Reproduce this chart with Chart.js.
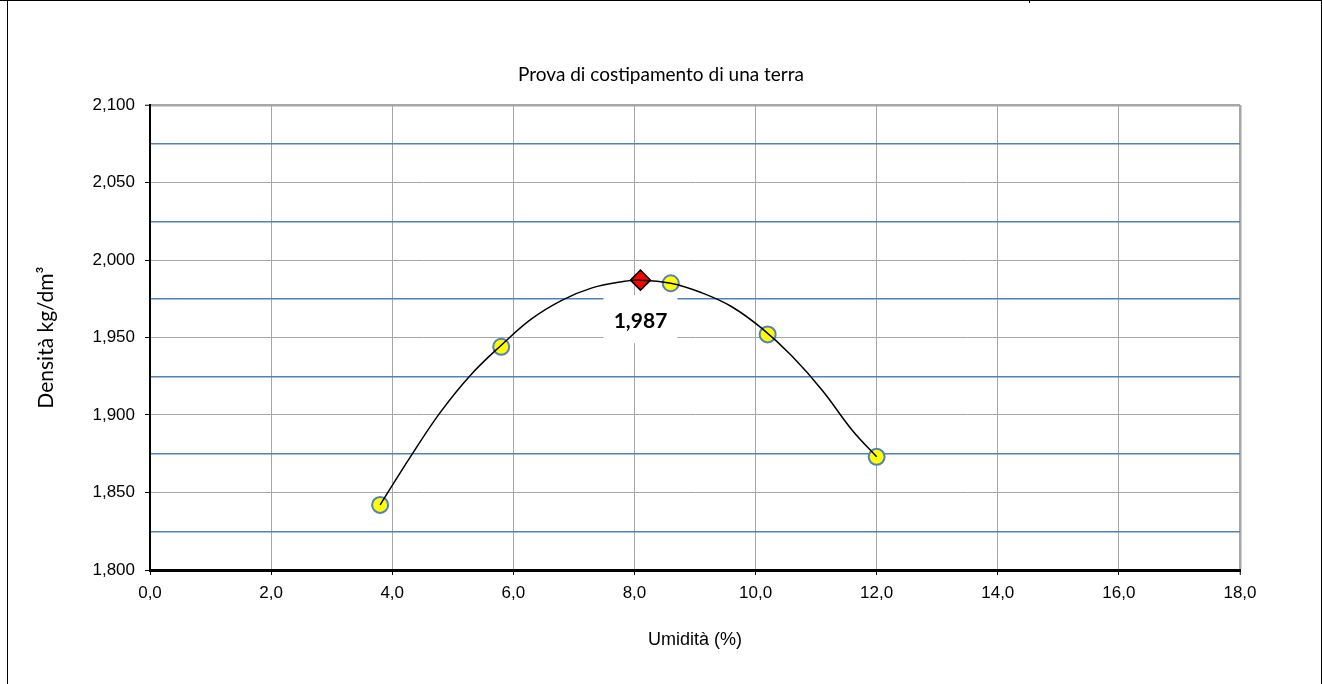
<!DOCTYPE html>
<html>
<head>
<meta charset="utf-8">
<script src="https://cdn.jsdelivr.net/npm/chart.js@4.4.1/dist/chart.umd.min.js"></script>
<style>
    body { margin: 0; background: #fff; }
    #wrap { position: relative; width: 1322px; height: 684px; }
    .ln { position: absolute; background: #000; }
</style>
</head>
<body>
<div id="wrap">
    <canvas id="chart"></canvas>
    <div class="ln" style="left:0; top:0; width:1322px; height:1px;"></div>
    <div class="ln" style="left:7px; top:0; width:1px; height:684px;"></div>
    <div class="ln" style="left:1321px; top:0; width:1px; height:684px;"></div>
    <div class="ln" style="left:1029px; top:0; width:1px; height:3px;"></div>
</div>
<script>
// punti misurati
const umidita = [3.8, 5.8, 8.6, 10.2, 12.0];
const densita = [1.842, 1.944, 1.985, 1.952, 1.873];

// massimo della curva
const umiditaMax = [8.1];
const densitaMax = [1.987];

// curva di costipamento
const curvaX = [3.8, 4.3, 4.8, 5.3, 5.8, 6.3, 6.8, 7.3, 7.8, 8.1, 8.6, 9.1, 9.6, 10.1, 10.6, 11.1, 11.6, 12.0];
const curvaY = [1.842, 1.873, 1.902, 1.926, 1.945, 1.962, 1.974, 1.982, 1.986, 1.987, 1.985, 1.979, 1.970, 1.956, 1.938, 1.916, 1.890, 1.873];

const toPts = (xs, ys) => xs.map((x, i) => ({ x: x, y: ys[i] }));
const isMinor = v => Math.round((v - 1.8) / 0.025) % 2 === 1;
const fmt = (v, d) => v.toFixed(d).replace('.', ',');

const labelMax = {
    id: 'labelMax',
    beforeDatasetsDraw(chart) {
        const { ctx, scales } = chart;
        const px = scales.x.getPixelForValue(umiditaMax[0]);
        const py = scales.y.getPixelForValue(densitaMax[0]);
        ctx.save();
        ctx.fillStyle = '#fff';
        ctx.fillRect(px - 37, py + 15, 74, 48);
        ctx.fillStyle = '#000';
        ctx.font = 'bold 21px Lato';
        ctx.textAlign = 'center';
        ctx.textBaseline = 'middle';
        ctx.fillText(fmt(densitaMax[0], 3), px, py + 41);
        ctx.restore();
    }
};

new Chart(document.getElementById('chart'), {
    type: 'scatter',
    data: {
        datasets: [{
            type: 'line',
            data: toPts(curvaX, curvaY),
            borderColor: '#000',
            borderWidth: 1.5,
            tension: 0.4,
            pointRadius: 0,
            fill: false
        }, {
            data: toPts(umiditaMax, densitaMax),
            pointStyle: 'rectRot',
            pointRadius: 10,
            backgroundColor: '#FF0000',
            borderColor: '#000',
            borderWidth: 1.5
        }, {
            data: toPts(umidita, densita),
            pointRadius: 8,
            backgroundColor: '#FFFF00',
            borderColor: '#4F81BD',
            borderWidth: 2
        }]
    },
    options: {
        responsive: true,
        maintainAspectRatio: false,
        animation: false,
        layout: { padding: 0 },
        plugins: {
            legend: { display: false },
            tooltip: { enabled: false },
            title: {
                display: true,
                text: 'Prova di costipamento di una terra',
                color: '#000',
                font: { family: 'Lato', size: 19, weight: 'normal', lineHeight: 1.2 },
                padding: { top: 63.6, bottom: 18.6 }
            }
        },
        scales: {
            x: {
                type: 'linear',
                min: 0,
                max: 18,
                afterFit: s => { s.height = 114; },
                ticks: {
                    stepSize: 2,
                    color: '#000',
                    font: { family: 'Liberation Sans', size: 17 },
                    padding: 8,
                    maxRotation: 0,
                    callback: v => fmt(v, 1)
                },
                grid: {
                    color: '#A6A6A6',
                    lineWidth: c => (c.tick && c.tick.value === 18 ? 2.5 : 1),
                    tickLength: 5,
                    tickColor: '#000',
                    tickWidth: 1
                },
                border: { color: '#000', width: 3 },
                title: {
                    display: true,
                    text: 'Umidità (%)',
                    color: '#000',
                    font: { family: 'Liberation Sans', size: 18, lineHeight: 1.2 },
                    padding: { top: 0, bottom: 33 }
                }
            },
            y: {
                type: 'linear',
                min: 1.8,
                max: 2.1,
                afterFit: s => { s.width = 150; },
                ticks: {
                    stepSize: 0.025,
                    color: '#000',
                    font: { family: 'Liberation Sans', size: 17 },
                    padding: 10,
                    callback: v => (isMinor(v) ? '' : fmt(v, 3))
                },
                grid: {
                    color: c => (c.tick && isMinor(c.tick.value) ? '#4F81BD' : '#A6A6A6'),
                    lineWidth: c => {
                        if (!c.tick) return 1;
                        if (Math.abs(c.tick.value - 2.1) < 1e-6) return 2.5;
                        return isMinor(c.tick.value) ? 1.5 : 1;
                    },
                    tickLength: 5,
                    tickColor: c => (c.tick && isMinor(c.tick.value) ? 'rgba(0,0,0,0)' : '#000'),
                    tickWidth: 1
                },
                border: { color: '#000', width: 2 },
                title: {
                    display: true,
                    text: 'Densità kg/dm³',
                    color: '#000',
                    font: { family: 'Lato', size: 21, lineHeight: 1.2 },
                    padding: { top: 34, bottom: 0 }
                }
            },
            spazio: {
                type: 'linear',
                position: 'right',
                display: true,
                afterFit: s => { s.width = 82; },
                ticks: { display: false },
                grid: { display: false },
                border: { display: false }
            }
        }
    },
    plugins: [labelMax]
});
</script>
</body>
</html>
